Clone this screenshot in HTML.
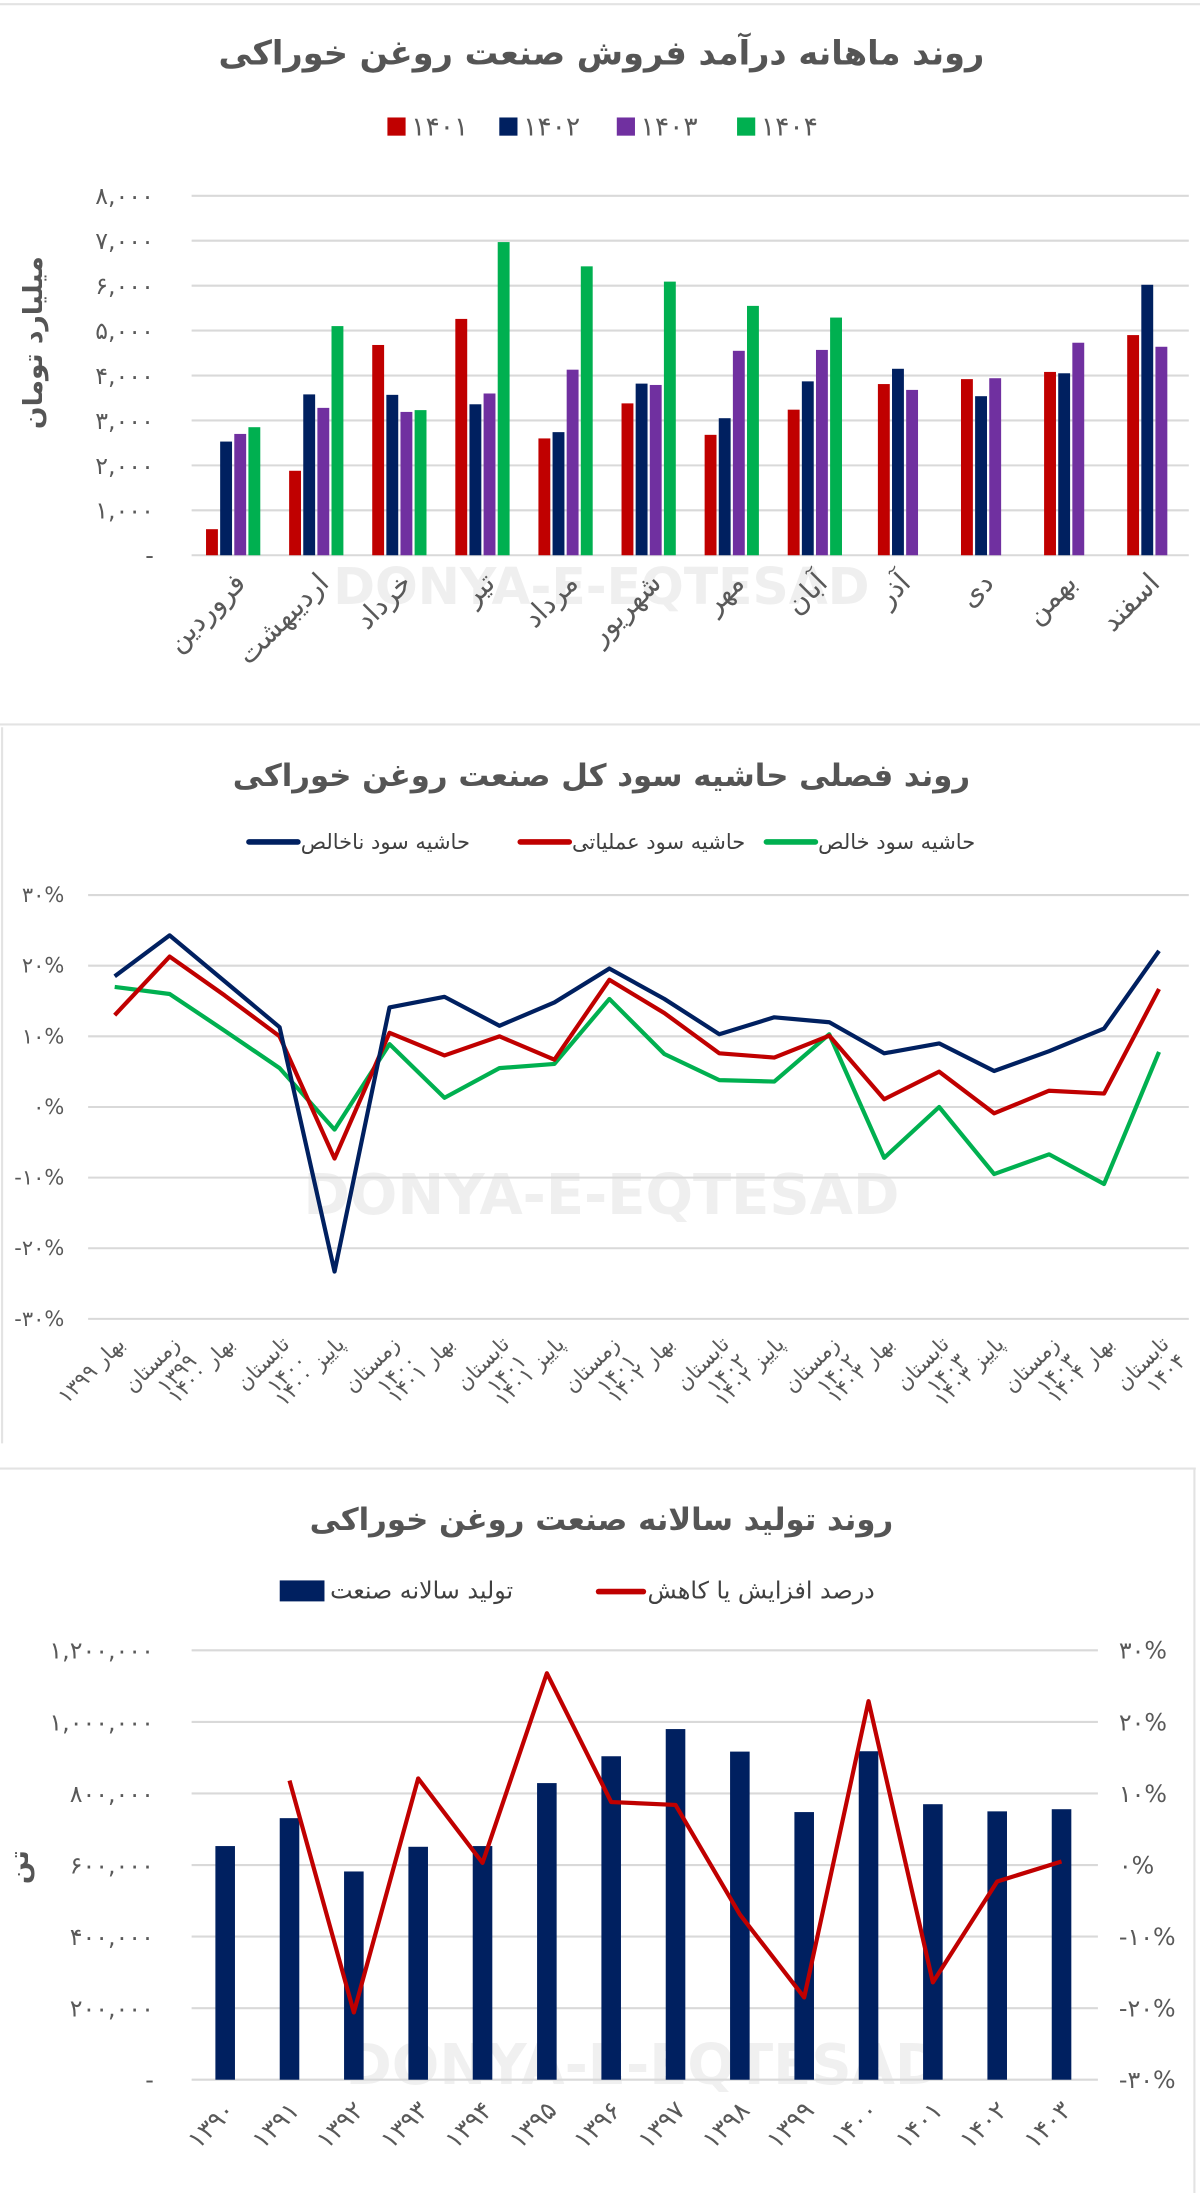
<!DOCTYPE html>
<html><head><meta charset="utf-8">
<style>
html,body{margin:0;padding:0;background:#fff;}
svg{display:block;}
text{font-family:"DejaVu Sans","Liberation Sans",sans-serif;}
</style></head>
<body>
<svg id="page" width="1200" height="2193" viewBox="0 0 858 1568" xmlns="http://www.w3.org/2000/svg">
<rect x="0" y="0" width="858" height="1568" fill="#fff"/>
<line x1="0" y1="3" x2="858" y2="3" stroke="#e3e3e3" stroke-width="1.5"/>
<line x1="0" y1="518" x2="858" y2="518" stroke="#e3e3e3" stroke-width="1.5"/>
<line x1="1.5" y1="520" x2="1.5" y2="1032" stroke="#e3e3e3" stroke-width="1.5"/>
<line x1="0" y1="1050" x2="855" y2="1050" stroke="#e3e3e3" stroke-width="1.5"/>
<line x1="854" y1="1050" x2="854" y2="1568" stroke="#e3e3e3" stroke-width="1.5"/>

<text x="430" y="432" text-anchor="middle" font-size="36" font-weight="bold" fill="#efefef">DONYA-E-EQTESAD</text>
<text x="430" y="868" text-anchor="middle" font-size="40" font-weight="bold" fill="#efefef">DONYA-E-EQTESAD</text>
<text x="460" y="1490" text-anchor="middle" font-size="40" font-weight="bold" fill="#f0f0f0">DONYA-E-EQTESAD</text>

<g id="c1">
<text x="430" y="46" text-anchor="middle" font-size="24" font-weight="bold" fill="#555">روند ماهانه درآمد فروش صنعت روغن خوراکی</text>
<g id="c1legend"></g>
<text transform="translate(30,245) rotate(-90)" text-anchor="middle" font-size="19" font-weight="bold" fill="#555">میلیارد تومان</text>
<g id="c1grid"></g><g id="c1bars"></g><g id="c1x"></g>
</g>

<g id="c2">
<text x="430" y="562" text-anchor="middle" font-size="22" font-weight="bold" fill="#555">روند فصلی حاشیه سود کل صنعت روغن خوراکی</text>
<g id="c2legend"></g>
<g id="c2grid"></g><g id="c2lines"></g><g id="c2x"></g>
</g>

<g id="c3">
<text x="430" y="1094" text-anchor="middle" font-size="22" font-weight="bold" fill="#555">روند تولید سالانه صنعت روغن خوراکی</text>
<g id="c3legend"></g>
<text transform="translate(20,1335) rotate(-90)" text-anchor="middle" font-size="19" font-weight="bold" fill="#555">تن</text>
<g id="c3grid"></g><g id="c3bars"></g><g id="c3line"></g><g id="c3x"></g>
</g>
</svg>
<script>
const months = ["فروردین","اردیبهشت","خرداد","تیر","مرداد","شهریور","مهر","آبان","آذر","دی","بهمن","اسفند"];
const seriesYears = ["۱۴۰۱","۱۴۰۲","۱۴۰۳","۱۴۰۴"];
const rev1401 = [580,1880,4680,5260,2600,3380,2680,3240,3810,3920,4080,4900];
const rev1402 = [2530,3580,3570,3360,2740,3820,3050,3870,4150,3540,4050,6020];
const rev1403 = [2700,3280,3190,3600,4130,3790,4550,4570,3680,3940,4730,4640];
const rev1404 = [2850,5100,3230,6970,6430,6090,5550,5290,null,null,null,null];
const revTicks = [0,1000,2000,3000,4000,5000,6000,7000,8000];
const quarters = [["بهار ۱۳۹۹"],["زمستان","۱۳۹۹"],["بهار ۱۴۰۰"],["تابستان","۱۴۰۰"],["پاییز ۱۴۰۰"],["زمستان","۱۴۰۰"],["بهار ۱۴۰۱"],["تابستان","۱۴۰۱"],["پاییز ۱۴۰۱"],["زمستان","۱۴۰۱"],["بهار ۱۴۰۲"],["تابستان","۱۴۰۲"],["پاییز ۱۴۰۲"],["زمستان","۱۴۰۲"],["بهار ۱۴۰۳"],["تابستان","۱۴۰۳"],["پاییز ۱۴۰۳"],["زمستان","۱۴۰۳"],["بهار ۱۴۰۴"],["تابستان","۱۴۰۴"]];
const grossMargin = [18.5,24.3,17.8,11.3,-23.3,14.1,15.6,11.5,14.8,19.6,15.3,10.3,12.7,12.0,7.6,9.0,5.1,7.9,11.1,22.1];
const opMargin = [13.0,21.3,15.8,10.0,-7.3,10.5,7.3,10.0,6.7,18.0,13.3,7.6,7.0,10.1,1.1,5.0,-0.9,2.3,1.9,16.7];
const netMargin = [17.0,16.0,10.8,5.5,-3.2,8.9,1.3,5.5,6.1,15.3,7.5,3.8,3.6,10.3,-7.2,0.0,-9.5,-6.7,-10.9,7.8];
const marginTicks = [-30,-20,-10,0,10,20,30];
const years = ["۱۳۹۰","۱۳۹۱","۱۳۹۲","۱۳۹۳","۱۳۹۴","۱۳۹۵","۱۳۹۶","۱۳۹۷","۱۳۹۸","۱۳۹۹","۱۴۰۰","۱۴۰۱","۱۴۰۲","۱۴۰۳"];
const production = [653000,731000,582000,651000,653000,829000,904000,980000,917000,748000,918000,770000,750000,756000];
const growthPct = [null,11.8,-20.6,12.1,0.3,26.8,8.8,8.4,-6.9,-18.5,22.9,-16.4,-2.3,0.5];
const prodTicks = [0,200000,400000,600000,800000,1000000,1200000];
const pctTicks = [-30,-20,-10,0,10,20,30];

const NS="http://www.w3.org/2000/svg";
function mk(parent,tag,attrs,txt){const e=document.createElementNS(NS,tag);for(const k in attrs)e.setAttribute(k,attrs[k]);if(txt!==undefined)e.textContent=txt;document.getElementById(parent).appendChild(e);return e;}
const fa=s=>String(s).replace(/\d/g,d=>"۰۱۲۳۴۵۶۷۸۹"[d]);
const fmt=n=>n===0?"-":fa(n.toLocaleString("en-US"));
const pct=n=>(n<0?"-":"")+fa(Math.abs(n))+"%";

const c1={x0:137,x1:850,yTop:140,yBot:397,max:8000};
const y1=v=>c1.yBot-(v/c1.max)*(c1.yBot-c1.yTop);
const band1=(c1.x1-c1.x0)/months.length;
const colors1=["#c00000","#002060","#7030a0","#00b050"];
const series1=[rev1401,rev1402,rev1403,rev1404];
revTicks.forEach(t=>{
  const l=mk("c1grid","line",{x1:c1.x0,x2:c1.x1,y1:y1(t),y2:y1(t),stroke:"#d9d9d9","stroke-width":1.5});
  
  
  const tx=mk("c1grid","text",{x:110,y:y1(t)+6,"text-anchor":"end","font-size":17,fill:"#595959"},fmt(t));
  
  
});
const bw=8.5,bg=1.6;
months.forEach((m,i)=>{
  const cx=c1.x0+band1*(i+0.5);
  const n=series1.filter(s=>s[i]!==null).length;
  const start=cx-(n*bw+(n-1)*bg)/2;
  let k=0;
  series1.forEach((s,j)=>{
    if(s[i]===null)return;
    const r=mk("c1bars","rect",{x:start+k*(bw+bg),y:y1(s[i]),width:bw,height:y1(0)-y1(s[i]),fill:colors1[j]});
    
    
    k++;
  });
  const lb=mk("c1x","text",{transform:`translate(${cx+10},${418}) rotate(-45)`,"text-anchor":"end","font-size":20,fill:"#595959"},m);
  
  
});
seriesYears.forEach((yr,j)=>{
  const x=[277,357,441,527][j];
  const r=mk("c1legend","rect",{x:x,y:84,width:13,height:13,fill:colors1[j]});
  
  
  const t=mk("c1legend","text",{x:x+17,y:97,"font-size":19,fill:"#595959"},yr);
  
  
});

const c2={x0:35,x1:850,yTop:640,yBot:943,min:-30,max:30,px0:82,step:39.3};
const y2=v=>c2.yBot-(v-c2.min)/(c2.max-c2.min)*(c2.yBot-c2.yTop);
const x2=i=>c2.px0+i*c2.step;
marginTicks.forEach(t=>{
  const l=mk("c2grid","line",{x1:c2.x0+28,x2:c2.x1,y1:y2(t),y2:y2(t),stroke:"#d9d9d9","stroke-width":1.5});
  
  
  const tx=mk("c2grid","text",{x:46,y:y2(t)+5,"text-anchor":"end","font-size":15,fill:"#595959"},pct(t));
  
  
});
const lines2=[[netMargin,"#00b050","net-margin-line"],[opMargin,"#c00000","operating-margin-line"],[grossMargin,"#002060","gross-margin-line"]];
lines2.forEach(([d,c,nm])=>{
  const p=mk("c2lines","polyline",{points:d.map((v,i)=>x2(i)+","+y2(v)).join(" "),fill:"none",stroke:c,"stroke-width":3,"stroke-linejoin":"round"});
  
  
});
quarters.forEach((q,i)=>{
  const x=x2(i)+8;
  const t=mk("c2x","text",{transform:`translate(${x},${962}) rotate(-45)`,"text-anchor":"end","font-size":15,fill:"#595959"},q[0]);
  
  
  if(q[1]){
    const t2=mk("c2x","text",{transform:`translate(${x+12},${974}) rotate(-45)`,"text-anchor":"end","font-size":15,fill:"#595959"},q[1]);
    
    
  }
});
[[178,"#002060","حاشیه سود ناخالص"],[372,"#c00000","حاشیه سود عملیاتی"],[548,"#00b050","حاشیه سود خالص"]].forEach(([x,c,s])=>{
  const l=mk("c2legend","line",{x1:x,x2:x+35,y1:602,y2:602,stroke:c,"stroke-width":4,"stroke-linecap":"round"});
  
  
  const t=mk("c2legend","text",{x:x+37,y:607,"font-size":15,fill:"#404040"},s);
  
  
});

const c3={x0:137,x1:785,yTop:1180,yBot:1487,max:1200000,pmin:-30,pmax:30,px0:161,step:46};
const y3=v=>c3.yBot-v/c3.max*(c3.yBot-c3.yTop);
const yp=v=>c3.yBot-(v-c3.pmin)/(c3.pmax-c3.pmin)*(c3.yBot-c3.yTop);
const x3=i=>c3.px0+i*c3.step;
prodTicks.forEach(t=>{
  const l=mk("c3grid","line",{x1:c3.x0,x2:c3.x1,y1:y3(t),y2:y3(t),stroke:"#d9d9d9","stroke-width":1.5});
  
  
  const tx=mk("c3grid","text",{x:110,y:y3(t)+6,"text-anchor":"end","font-size":17,fill:"#595959"},fmt(t));
  
  
});
pctTicks.forEach(t=>{
  const tx=mk("c3grid","text",{x:800,y:yp(t)+6,"font-size":17,fill:"#595959"},pct(t));
  
  
});
production.forEach((v,i)=>{
  const r=mk("c3bars","rect",{x:x3(i)-7,y:y3(v),width:14,height:y3(0)-y3(v),fill:"#002060"});
  
  
  const t=mk("c3x","text",{transform:`translate(${x3(i)+8},${1510}) rotate(-45)`,"text-anchor":"end","font-size":18,fill:"#595959"},years[i]);
  
  
});
const pts=growthPct.map((v,i)=>v===null?null:x3(i)+","+yp(v)).filter(p=>p).join(" ");
const gl=mk("c3line","polyline",{points:pts,fill:"none",stroke:"#c00000","stroke-width":3,"stroke-linejoin":"round"});


const ls=mk("c3legend","rect",{x:200,y:1130,width:32,height:15,fill:"#002060"});


const lt=mk("c3legend","text",{x:236,y:1143,"font-size":17,fill:"#404040"},"تولید سالانه صنعت");


const ll=mk("c3legend","line",{x1:428,x2:460,y1:1138,y2:1138,stroke:"#c00000","stroke-width":4,"stroke-linecap":"round"});


const lt2=mk("c3legend","text",{x:463,y:1143,"font-size":17,fill:"#404040"},"درصد افزایش یا کاهش");


</script>
</body></html>
